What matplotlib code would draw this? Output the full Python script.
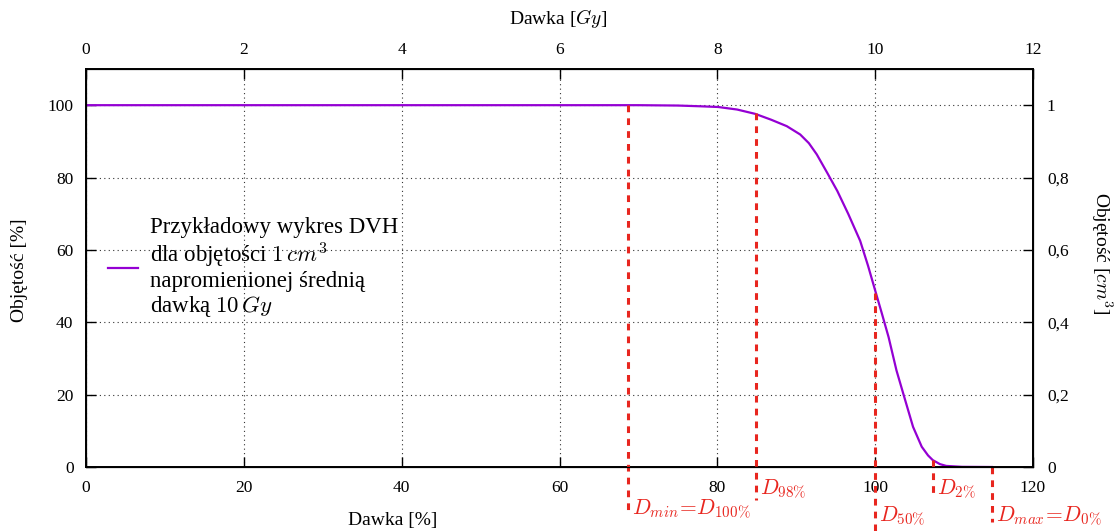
import numpy as np
import matplotlib
matplotlib.use('Agg')
import matplotlib.pyplot as plt
from matplotlib.ticker import FuncFormatter, MultipleLocator

plt.rcParams['font.family'] = ['Liberation Serif', 'DejaVu Serif']
plt.rcParams['mathtext.fontset'] = 'cm'

# DVH curve (dose in % of prescribed, volume in %)
dose_pct = [0, 70, 75, 77.8, 80.1, 82.5, 84.8, 86.8, 88.8, 90.5, 91.6, 92.6,
            93.9, 95.2, 96.6, 98.1, 99.1, 100.0, 100.8, 101.7, 102.7, 103.8,
            104.8, 105.9, 106.7, 107.3, 108.2, 109.0, 111.0, 114.8]
volume_pct = [100, 100, 99.9, 99.7, 99.5, 98.8, 97.6, 96.0, 94.2, 91.9, 89.5,
              86.4, 81.4, 76.3, 69.9, 62.5, 55.6, 48.8, 42.8, 35.9, 26.7, 18.5,
              11.1, 5.6, 3.2, 1.9, 0.8, 0.3, 0.05, 0]

# marked dose levels
marker_dose = [68.7, 84.9, 100.0, 107.3, 114.8]
marker_top = [100, 97.8, 48, 2, 0]
marker_labels = [r'$D_{min}\!=\!D_{100\%}$', r'$D_{98\%}$', r'$D_{50\%}$',
                 r'$D_{2\%}$', r'$D_{max}\!=\!D_{0\%}$']

legend_label = ('Przykładowy wykres DVH\n'
                'dla objętości $1\\,cm^3$\n'
                'napromienionej średnią\n'
                'dawką $10\\,Gy$')

fs = 12.5
big = 15.5
red = '#e8261f'
W, H = 1119, 531

fig = plt.figure(figsize=(W / 100, H / 100), dpi=100)
ax = fig.add_axes([86 / W, 64 / H, 947 / W, 398 / H])

ax.plot(dose_pct, volume_pct, color='#9400d3', lw=1.6, label=legend_label)

# lower ends of the red markers (below the axis) and label baselines
line_bottom = [-11.8, -9.1, -17.6, -8.3, -15.2]
label_y = [-13.2, -7.7, -15.2, -7.7, -15.2]
for xd, yt, yb, ly, lab in zip(marker_dose, marker_top, line_bottom, label_y,
                               marker_labels):
    ax.plot([xd, xd], [yt, yb], color=red, lw=2.2, dashes=(2.2, 2.0),
            clip_on=False, zorder=3)
    ax.text(xd + 0.5, ly, lab, color=red, fontsize=big, ha='left',
            va='baseline', clip_on=False)

ax.set_xlim(0, 120)
ax.set_ylim(0, 110)
ax.xaxis.set_major_locator(MultipleLocator(20))
ax.set_yticks([0, 20, 40, 60, 80, 100])
ax.grid(True, color='#333333', ls=(0, (1, 3)), lw=0.8)
ax.tick_params(direction='in', length=7, width=1, labelsize=fs, pad=9)
for s in ax.spines.values():
    s.set_linewidth(1.4)

axt = ax.twiny()
axt.set_xlim(0, 12)
axt.xaxis.set_major_locator(MultipleLocator(2))
axt.tick_params(direction='in', length=7, width=1, labelsize=fs, pad=8)

axr = ax.twinx()
axr.set_ylim(0, 1.1)
axr.set_yticks([0, 0.2, 0.4, 0.6, 0.8, 1.0])
axr.yaxis.set_major_formatter(
    FuncFormatter(lambda v, p: ('%g' % round(v, 2)).replace('.', ',')))
axr.tick_params(direction='in', length=7, width=1, labelsize=fs, pad=10)

# axis titles
fig.text(393 / W, 1 - 521 / H, 'Dawka [%]', fontsize=14, ha='center', va='center')
fig.text(558 / W, 1 - 18 / H, 'Dawka [$Gy$]', fontsize=14, ha='center', va='center')
fig.text(20 / W, 1 - 270 / H, 'Objętość [%]', fontsize=14, rotation=90,
         ha='center', va='center')
fig.text(1102 / W, 1 - 253 / H, 'Objętość [$cm^3$]', fontsize=14, rotation=-90,
         ha='center', va='center')

leg = ax.legend(loc='center left', bbox_to_anchor=((108 - 86) / 947, 0.5),
                frameon=False, fontsize=16.5, handlelength=1.3,
                handletextpad=0.55, borderaxespad=0, borderpad=0)
for t in leg.get_texts():
    t.set_linespacing(1.1)

fig.savefig('out.png', dpi=100)
